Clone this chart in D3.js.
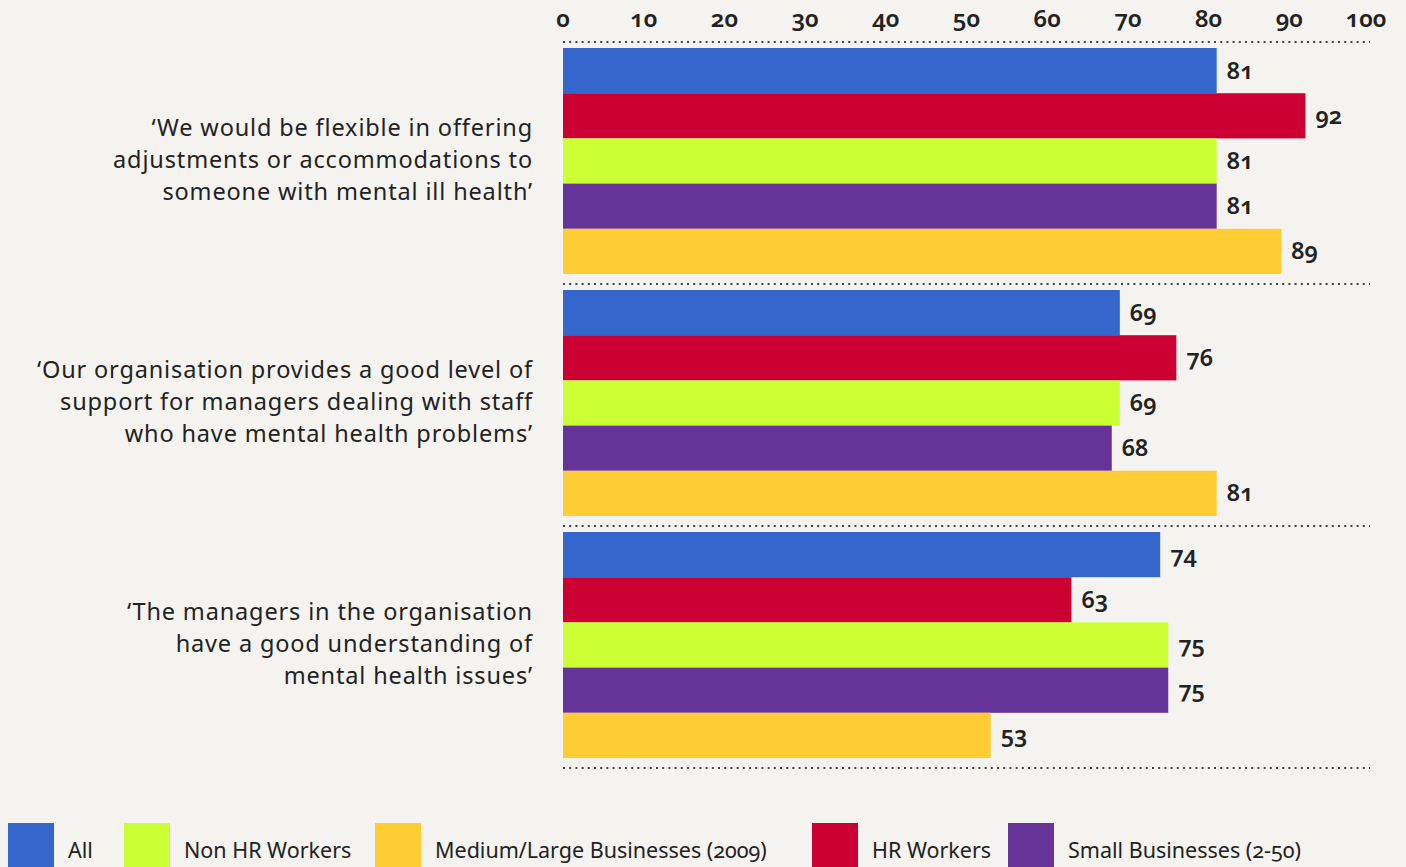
<!DOCTYPE html>
<html>
<head>
<meta charset="utf-8">
<script src="https://cdn.jsdelivr.net/npm/d3@7"></script>
<style>
	body { margin: 0; background-color: #f4f3ef; }
	text { font-family: "Noto Sans", "Open Sans", sans-serif; fill: #222; font-variant-numeric: oldstyle-nums; font-feature-settings: "onum" 1; }
</style>
</head>
<body>
<div id="root"></div>
<script>
//questions (categories)
const questions = [
	["\u2018We would be flexible in offering", "adjustments or accommodations to", "someone with mental ill health\u2019"],
	["\u2018Our organisation provides a good level of", "support for managers dealing with staff", "who have mental health problems\u2019"],
	["\u2018The managers in the organisation", "have a good understanding of", "mental health issues\u2019"]
];

//series, in the order the bars are drawn
const seriesNames = ["All", "HR Workers", "Non HR Workers", "Small Businesses (2-50)", "Medium/Large Businesses (2009)"];
const seriesColors = ["#3466cc", "#cc0033", "#ccff33", "#663399", "#ffcc33"];

//values per series, one per question
const allValues = [81, 69, 74];
const hrValues = [92, 76, 63];
const nonHrValues = [81, 69, 75];
const smallValues = [81, 68, 75];
const mediumValues = [89, 81, 53];

//legend order
const legendOrder = ["All", "Non HR Workers", "Medium/Large Businesses (2009)", "HR Workers", "Small Businesses (2-50)"];

//x axis ticks
const xTicks = [0, 10, 20, 30, 40, 50, 60, 70, 80, 90, 100];

const seriesValues = [allValues, hrValues, nonHrValues, smallValues, mediumValues];

const width = 1406;
const height = 867;

const svg = d3.select("#root")
	.append("svg")
	.attr("width", width)
	.attr("height", height)
	.attr("style", "background-color: #f4f3ef; display: block;");

//scales
const xScale = d3.scaleLinear()
	.domain([0, 100])
	.range([563, 1370]);

const yOuter = d3.scaleBand()
	.domain(d3.range(questions.length))
	.range([42, 768]);

const yInner = d3.scaleBand()
	.domain(seriesNames)
	.range([6, yOuter.bandwidth() - 10]);

//top axis labels
svg.append("g")
	.selectAll("text")
	.data(xTicks)
	.enter()
	.append("text")
	.attr("x", (d) => xScale(d) - (d === 100 ? 4 : 0))
	.attr("y", 27)
	.attr("text-anchor", "middle")
	.style("font-size", "24px")
	.style("font-weight", "600")
	.text((d) => d);

//dotted separators
const sepYs = d3.range(questions.length).map((i) => yOuter(i)).concat([yOuter.range()[1]]);
svg.append("g")
	.selectAll("line")
	.data(sepYs)
	.enter()
	.append("line")
	.attr("x1", xScale(0))
	.attr("x2", xScale(100))
	.attr("y1", (d) => d)
	.attr("y2", (d) => d)
	.attr("stroke", "#444")
	.attr("stroke-width", 2)
	.attr("stroke-dasharray", "2 4.2");

//groups
const groups = svg.selectAll("g.question")
	.data(questions)
	.enter()
	.append("g")
	.attr("class", "question")
	.attr("transform", (d, i) => "translate(0," + yOuter(i) + ")");

//question labels
groups.append("text")
	.attr("text-anchor", "end")
	.style("font-size", "23.5px")
	.style("letter-spacing", "0.85px")
	.selectAll("tspan")
	.data((d) => d)
	.enter()
	.append("tspan")
	.attr("x", 533)
	.attr("y", (d, j) => yOuter.bandwidth() / 2 - 3 + (j - 1) * 32 + 8)
	.text((d) => d);

//bars
groups.each(function(q, i){
	const g = d3.select(this);
	const rows = seriesNames.map((name, k) => ({ name: name, value: seriesValues[k][i], color: seriesColors[k] }));

	g.selectAll("rect")
		.data(rows)
		.enter()
		.append("rect")
		.attr("x", xScale(0))
		.attr("y", (d) => yInner(d.name))
		.attr("width", (d) => xScale(d.value) - xScale(0))
		.attr("height", yInner.bandwidth())
		.attr("fill", (d) => d.color);

	g.selectAll("text.val")
		.data(rows)
		.enter()
		.append("text")
		.attr("class", "val")
		.attr("x", (d) => xScale(d.value) + 10)
		.attr("y", (d) => yInner(d.name) + yInner.bandwidth() / 2 + 8)
		.style("font-size", "23.5px")
		.style("font-weight", "600")
		.text((d) => d.value);
});

//legend
const legendX = [8, 124, 375, 812, 1008];
const legend = svg.append("g")
	.selectAll("g")
	.data(legendOrder)
	.enter()
	.append("g")
	.attr("transform", (d, i) => "translate(" + legendX[i] + ",823)");

legend.append("rect")
	.attr("width", 46)
	.attr("height", 46)
	.attr("fill", (d) => seriesColors[seriesNames.indexOf(d)]);

legend.append("text")
	.attr("x", 60)
	.attr("y", 35)
	.style("font-size", "21.5px")
	.text((d) => d);
</script>
</body>
</html>
